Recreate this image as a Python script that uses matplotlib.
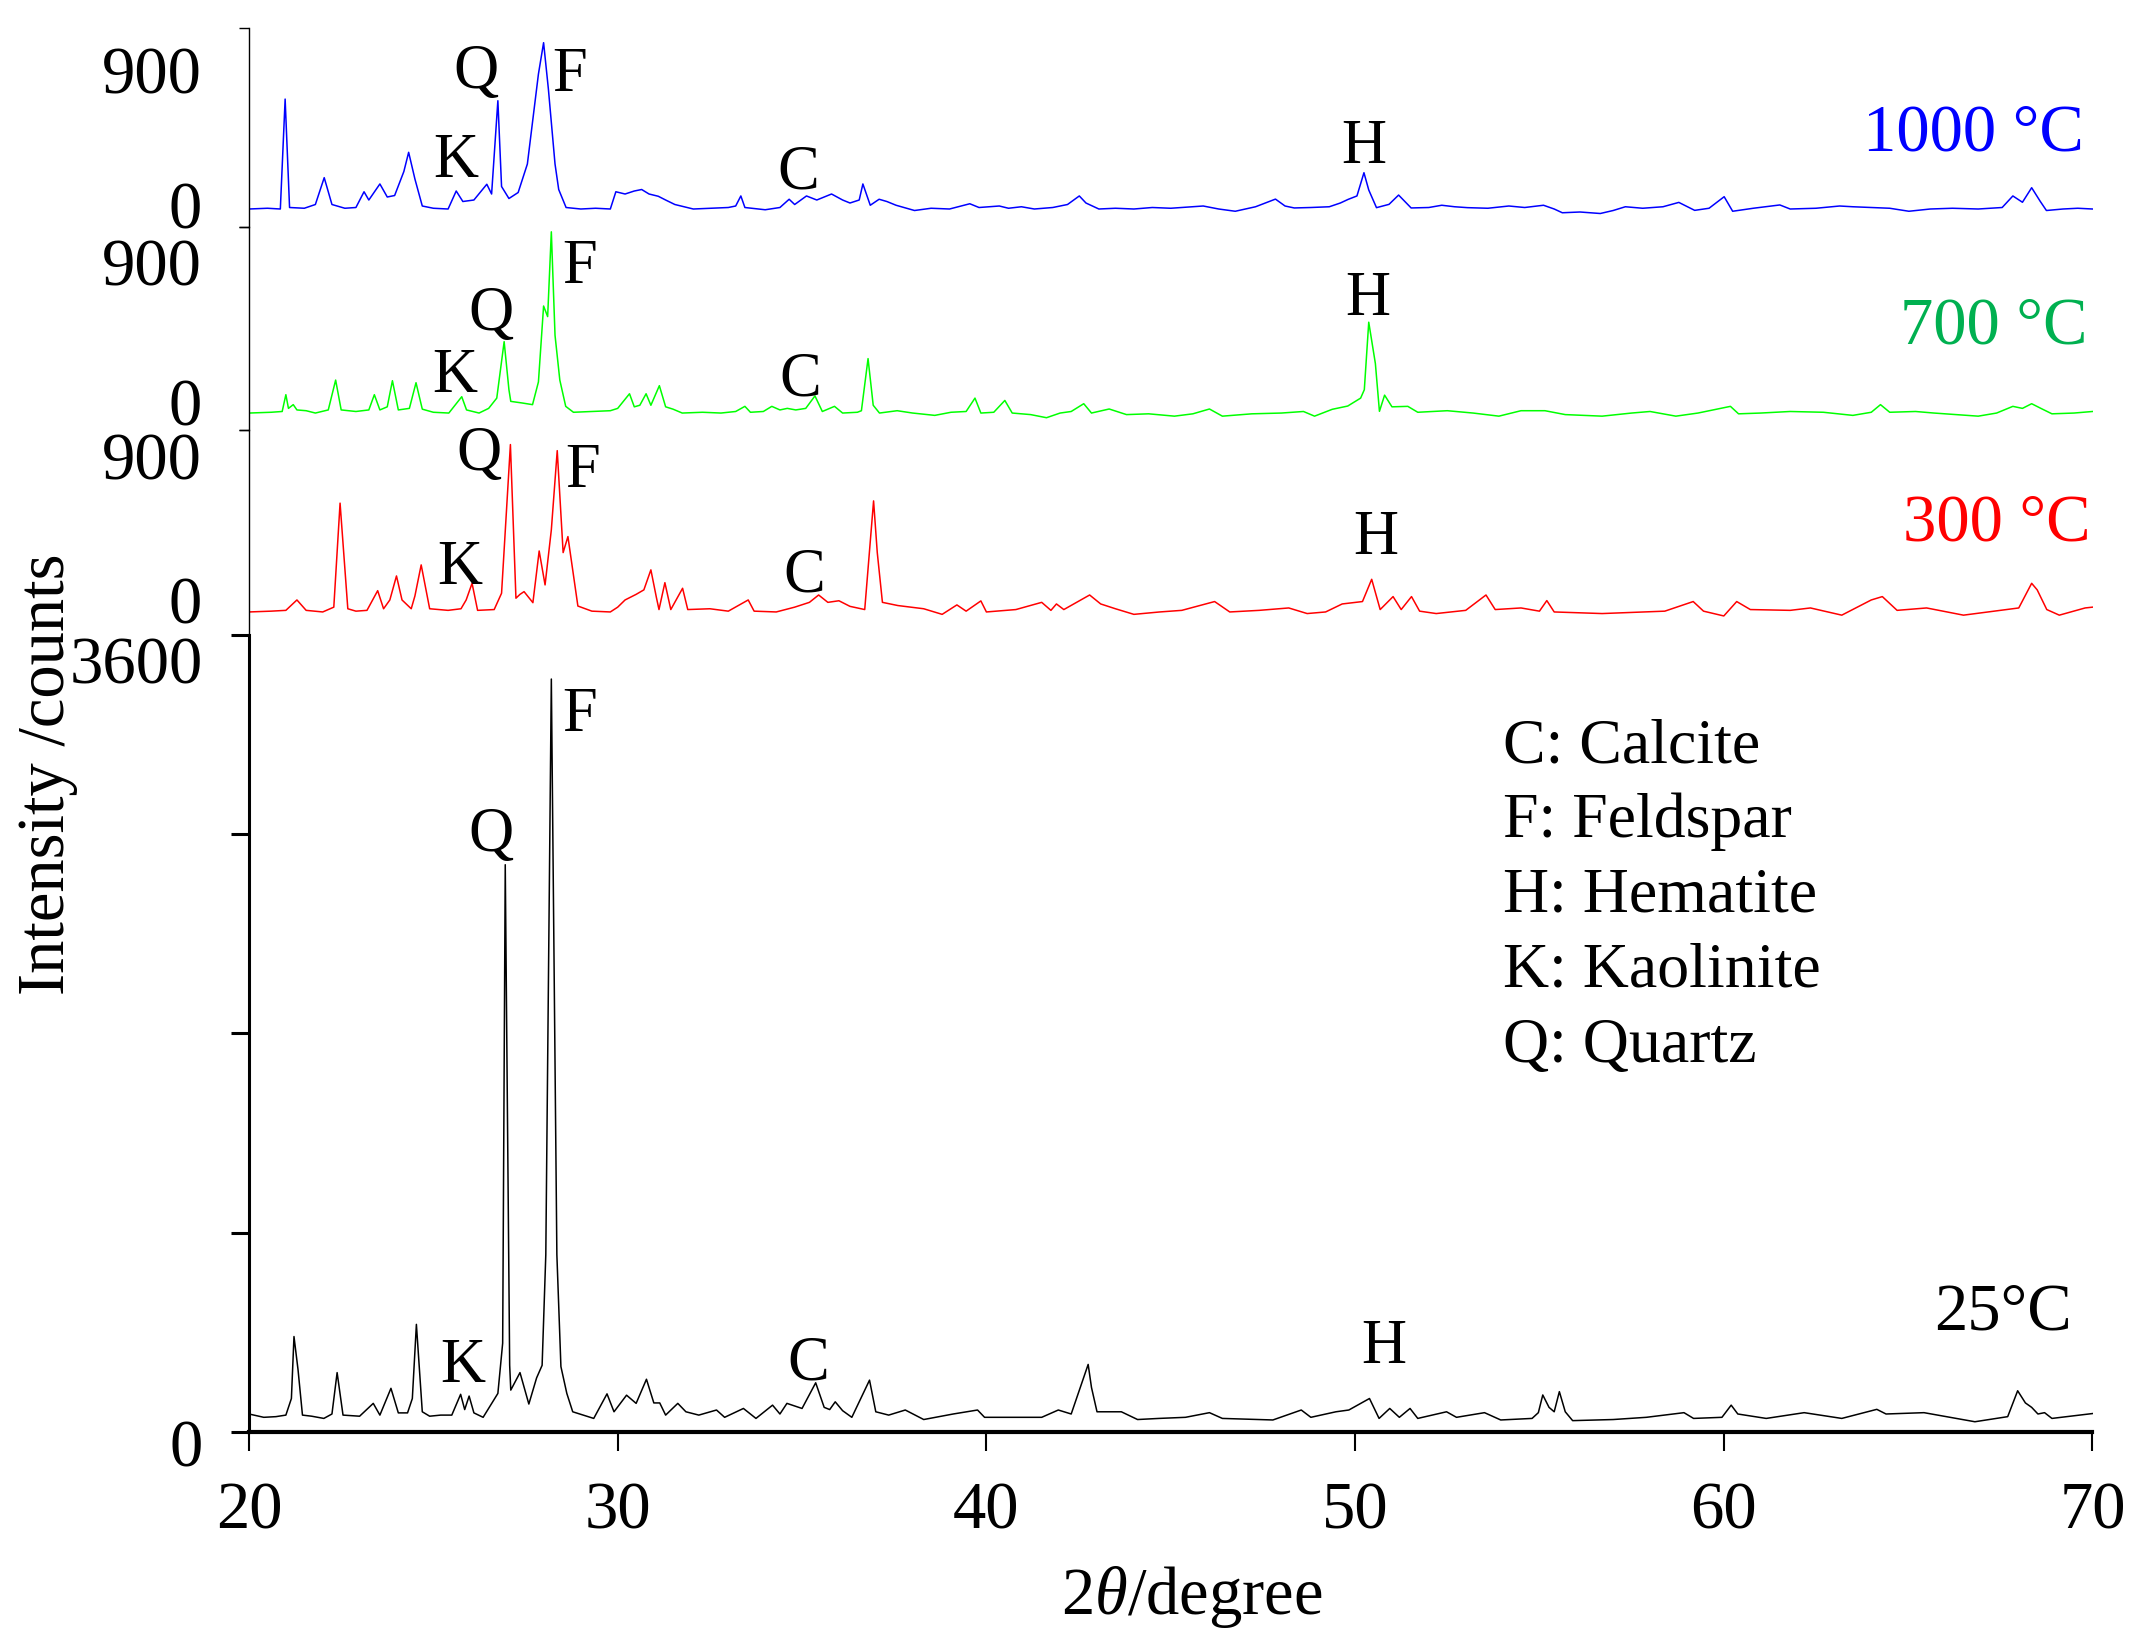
import numpy as np
import matplotlib.pyplot as plt
from matplotlib.transforms import ScaledTranslation

plt.rcParams['font.family'] = ['Liberation Serif', 'DejaVu Serif']
plt.rcParams['mathtext.fontset'] = 'custom'
plt.rcParams['mathtext.rm'] = 'Liberation Serif'
plt.rcParams['mathtext.it'] = 'Liberation Serif:italic'

# (2theta, counts)
pts_1000 = np.array([
    (20.0, 0), (20.5, 5), (20.85, 0), (20.98, 733), (21.1, 10), (21.5, 5), (21.8, 30), (22.04, 209),
    (22.25, 30), (22.6, 5), (22.9, 10), (23.12, 115), (23.25, 60), (23.55, 167), (23.75, 80), (23.95, 90),
    (24.2, 250), (24.33, 378), (24.5, 200), (24.7, 20), (25.0, 5), (25.4, 0), (25.62, 120), (25.8, 50),
    (26.1, 60), (26.45, 165), (26.58, 100), (26.75, 722), (26.85, 150), (27.05, 70), (27.3, 110),
    (27.55, 300), (27.85, 900), (27.99, 1109), (28.12, 800), (28.3, 300), (28.4, 130), (28.6, 10),
    (29.0, 0), (29.4, 5), (29.8, 0), (29.95, 115), (30.2, 100), (30.45, 120), (30.65, 130), (30.85, 100),
    (31.1, 85), (31.3, 60), (31.55, 30), (32.05, 0), (32.5, 5), (33.0, 10), (33.2, 20), (33.34, 87),
    (33.45, 10), (34.0, -5), (34.4, 10), (34.65, 65), (34.8, 30), (35.12, 87), (35.4, 60), (35.8, 100),
    (36.1, 60), (36.3, 40), (36.55, 60), (36.65, 167), (36.85, 25), (37.09, 65), (37.3, 50), (37.55, 25),
    (38.05, -10), (38.5, 5), (39.0, 0), (39.55, 35), (39.8, 10), (40.35, 20), (40.6, 5), (40.95, 15),
    (41.3, 0), (41.8, 10), (42.2, 30), (42.52, 87), (42.7, 40), (43.05, 0), (43.5, 5), (44.0, 0),
    (44.5, 10), (45.0, 5), (45.88, 20), (46.3, 0), (46.75, -15), (47.3, 15), (47.84, 66), (48.1, 20),
    (48.35, 7), (48.8, 10), (49.3, 15), (49.6, 40), (49.81, 64), (50.05, 87), (50.24, 242), (50.37, 127),
    (50.58, 9), (50.92, 31), (51.18, 93), (51.52, 7), (52.0, 10), (52.35, 25), (52.7, 15), (53.05, 9),
    (53.6, 5), (54.17, 20), (54.6, 10), (55.11, 25), (55.4, 0), (55.62, -25), (56.1, -20), (56.65, -30),
    (57.0, -10), (57.33, 15), (57.8, 5), (58.35, 15), (58.78, 44), (59.21, -9), (59.6, 5), (60.01, 82),
    (60.24, -15), (60.8, 5), (61.52, 27), (61.8, 0), (62.5, 5), (63.14, 20), (63.5, 15), (64.0, 10),
    (64.5, 5), (65.02, -15), (65.6, 0), (66.2, 5), (66.9, 0), (67.55, 10), (67.84, 87), (68.1, 45),
    (68.35, 142), (68.58, 52), (68.75, -10), (69.2, 0), (69.6, 5), (70.0, 0),
])

pts_700 = np.array([
    (20.0, 0), (20.6, 5), (20.9, 10), (21.0, 118), (21.07, 30), (21.2, 54), (21.3, 20), (21.55, 15),
    (21.8, 0), (22.15, 20), (22.35, 212), (22.5, 20), (22.9, 10), (23.25, 20), (23.4, 118), (23.55, 20),
    (23.75, 40), (23.89, 208), (24.05, 20), (24.35, 30), (24.53, 195), (24.7, 25), (25.0, 5), (25.42, 0),
    (25.77, 105), (25.9, 20), (26.24, 0), (26.5, 30), (26.72, 96), (26.92, 459), (27.05, 150), (27.1, 75),
    (27.4, 65), (27.69, 54), (27.85, 200), (27.99, 688), (28.1, 620), (28.2, 1165), (28.3, 500),
    (28.43, 212), (28.59, 43), (28.8, 5), (29.3, 10), (29.8, 15), (30.0, 30), (30.32, 124), (30.45, 40),
    (30.6, 50), (30.77, 124), (30.9, 50), (31.13, 176), (31.3, 40), (31.5, 25), (31.75, 0), (32.3, 5),
    (32.8, 0), (33.2, 10), (33.45, 43), (33.6, 5), (33.95, 10), (34.18, 43), (34.4, 20), (34.6, 30),
    (34.83, 20), (35.1, 30), (35.35, 110), (35.55, 10), (35.88, 43), (36.1, 0), (36.5, 5), (36.61, 15),
    (36.79, 350), (36.93, 50), (37.1, 0), (37.58, 15), (38.0, 0), (38.6, -15), (39.04, 5), (39.45, 10),
    (39.69, 96), (39.85, 0), (40.2, 5), (40.5, 81), (40.7, 0), (41.2, -10), (41.63, -30), (42.0, 0),
    (42.3, 10), (42.64, 60), (42.85, 0), (43.33, 26), (43.8, -10), (44.4, -5), (45.1, -20), (45.6, -5),
    (46.05, 26), (46.4, -20), (47.2, -5), (48.0, 0), (48.6, 10), (48.9, -20), (49.38, 24), (49.8, 45),
    (50.15, 96), (50.25, 150), (50.37, 584), (50.55, 318), (50.66, 11), (50.8, 115), (51.0, 40),
    (51.43, 43), (51.7, 5), (52.5, 15), (53.2, 0), (53.9, -20), (54.5, 15), (55.15, 15), (55.7, -10),
    (56.7, -20), (57.5, 0), (58.0, 10), (58.7, -20), (59.3, 0), (60.18, 43), (60.4, -5), (61.0, 0),
    (61.8, 10), (62.7, 5), (63.5, -15), (64.0, 5), (64.25, 54), (64.5, 5), (65.2, 10), (65.7, 0),
    (66.9, -20), (67.4, 0), (67.84, 43), (68.1, 30), (68.35, 60), (68.6, 30), (68.9, -5), (69.5, 0),
    (70.0, 10),
])

pts_300 = np.array([
    (20.0, 0), (20.6, 5), (21.0, 10), (21.3, 75), (21.55, 10), (22.0, 0), (22.3, 30), (22.47, 680),
    (22.68, 20), (22.9, 5), (23.2, 10), (23.49, 133), (23.65, 20), (23.82, 75), (24.0, 225), (24.15, 75),
    (24.4, 20), (24.5, 100), (24.67, 294), (24.9, 20), (25.4, 10), (25.75, 20), (25.89, 75), (26.05, 179),
    (26.2, 10), (26.65, 15), (26.85, 117), (27.09, 1046), (27.24, 86), (27.35, 110), (27.46, 127),
    (27.7, 58), (27.87, 381), (28.03, 169), (28.2, 513), (28.36, 1008), (28.52, 371), (28.65, 471),
    (28.92, 37), (29.3, 5), (29.8, 0), (30.0, 30), (30.2, 75), (30.5, 110), (30.71, 138), (30.9, 263),
    (31.05, 90), (31.12, 15), (31.28, 183), (31.44, 15), (31.76, 148), (31.9, 15), (32.5, 20), (33.0, 5),
    (33.54, 75), (33.7, 5), (34.3, 0), (34.8, 30), (35.2, 60), (35.45, 106), (35.7, 60), (36.0, 70),
    (36.3, 35), (36.7, 15), (36.94, 694), (37.04, 371), (37.18, 60), (37.6, 40), (38.3, 20), (38.8, -15),
    (39.2, 44), (39.45, 5), (39.85, 69), (40.0, 0), (40.8, 15), (41.5, 60), (41.75, 10), (41.9, 50),
    (42.1, 15), (42.8, 106), (43.1, 50), (43.5, 20), (44.0, -15), (44.7, 0), (45.3, 10), (46.19, 65),
    (46.6, 0), (47.4, 10), (48.2, 25), (48.7, -10), (49.2, 0), (49.65, 50), (50.2, 65), (50.45, 204),
    (50.68, 15), (51.03, 96), (51.25, 15), (51.53, 96), (51.75, 5), (52.2, -10), (53.0, 10), (53.55, 106),
    (53.8, 15), (54.5, 25), (55.0, 5), (55.2, 71), (55.4, 0), (56.7, -10), (58.4, 5), (59.17, 65),
    (59.45, 5), (60.0, -25), (60.35, 65), (60.72, 15), (61.8, 10), (62.35, 25), (63.2, -20), (64.0, 75),
    (64.3, 96), (64.7, 10), (65.5, 25), (66.5, -20), (68.0, 25), (68.35, 179), (68.5, 138), (68.76, 15),
    (69.1, -20), (69.8, 25), (70.0, 30),
])

pts_25 = np.array([
    (20.0, 80), (20.4, 65), (20.73, 68), (21.0, 75), (21.15, 150), (21.22, 430), (21.33, 280), (21.45, 75),
    (21.7, 70), (22.03, 60), (22.25, 80), (22.39, 267), (22.55, 75), (23.0, 70), (23.37, 128), (23.55, 75),
    (23.85, 196), (24.05, 85), (24.3, 85), (24.43, 150), (24.54, 485), (24.7, 90), (24.9, 70), (25.2, 75),
    (25.5, 75), (25.74, 169), (25.85, 100), (25.97, 161), (26.1, 85), (26.35, 65), (26.75, 173),
    (26.88, 400), (26.95, 2562), (27.07, 300), (27.1, 188), (27.35, 267), (27.59, 125), (27.8, 243),
    (27.95, 300), (28.05, 800), (28.2, 3401), (28.35, 800), (28.46, 294), (28.62, 173), (28.78, 90),
    (29.35, 60), (29.71, 171), (29.9, 90), (30.24, 165), (30.5, 128), (30.78, 237), (30.98, 130),
    (31.14, 130), (31.3, 75), (31.63, 128), (31.85, 90), (32.2, 75), (32.68, 98), (32.9, 65), (33.41, 105),
    (33.75, 60), (34.2, 120), (34.4, 80), (34.59, 128), (35.0, 105), (35.37, 221), (35.6, 110),
    (35.75, 100), (35.9, 135), (36.1, 95), (36.35, 65), (36.83, 233), (37.0, 90), (37.35, 75), (37.8, 98),
    (38.3, 55), (39.1, 80), (39.76, 98), (39.95, 65), (40.9, 65), (41.5, 65), (41.95, 98), (42.3, 80),
    (42.76, 304), (42.85, 200), (43.0, 90), (43.66, 90), (44.1, 55), (44.68, 60), (45.4, 65), (46.05, 86),
    (46.4, 60), (47.77, 53), (48.54, 98), (48.8, 65), (49.48, 90), (49.83, 98), (50.39, 150), (50.65, 60),
    (50.94, 105), (51.2, 65), (51.49, 105), (51.7, 60), (52.48, 90), (52.75, 65), (53.51, 86), (53.95, 53),
    (54.8, 60), (54.97, 86), (55.09, 166), (55.26, 110), (55.4, 90), (55.54, 181), (55.7, 90), (55.9, 50),
    (57.0, 55), (57.9, 65), (58.92, 86), (59.18, 60), (59.95, 65), (60.2, 120), (60.38, 80), (61.15, 60),
    (62.18, 86), (63.2, 60), (64.15, 101), (64.4, 80), (65.43, 86), (66.81, 45), (67.7, 68), (67.97, 185),
    (68.18, 130), (68.35, 110), (68.52, 80), (68.7, 86), (68.9, 60), (70.0, 82),
])

temps = ['1000 °C', '700 °C', '300 °C', '25°C']
trace_colors = ['#0000ff', '#00ff00', '#ff0000', 'black']
temp_colors = ['#0000ff', '#00b050', '#ff0000', 'black']

# phase letters per panel: (letter, 2theta, counts)
marks_1000 = [('K', 25.6, 215), ('Q', 26.17, 805), ('F', 28.69, 787), ('C', 34.89, 138), ('H', 50.24, 309)]
marks_700 = [('K', 25.57, 137), ('Q', 26.57, 533), ('F', 28.96, 833), ('C', 34.94, 116), ('H', 50.34, 630)]
marks_300 = [('K', 25.71, 175), ('Q', 26.25, 887), ('F', 29.04, 783), ('C', 35.05, 127), ('H', 50.56, 362)]
marks_25 = [('K', 25.8, 226), ('Q', 26.57, 2624), ('F', 28.97, 3168), ('C', 35.17, 234), ('H', 50.77, 309)]

legend_rows = ['C: Calcite', 'F: Feldspar', 'H: Hematite', 'K: Kaolinite', 'Q: Quartz']

W, H = 2149, 1651
fig = plt.figure(figsize=(W / 100, H / 100), dpi=100)
X0, X1 = 249, 2092.5

def px_offset(dy):
    return ScaledTranslation(0, dy / 100, fig.dpi_scale_trans)

def add_panel(top, bottom):
    return fig.add_axes([X0 / W, 1 - bottom / H, (X1 - X0) / W, (bottom - top) / H])

# upper stacked panels: pixel top/bottom, ylim, tick label shift (px)
upper = [
    (pts_1000, marks_1000, (28, 227), (-120, 1207), 4, (69.77, 393)),
    (pts_700, marks_700, (227, 430), (-109, 1196), 11, (69.86, 448)),
    (pts_300, marks_300, (430, 635), (-144, 1137), 12, (69.95, 446)),
]

for i, (pts, marks, (top, bot), ylim, shift, tpos) in enumerate(upper):
    ax = add_panel(top, bot)
    ax.plot(pts[:, 0], pts[:, 1], color=trace_colors[i], lw=1.1)
    ax.set_xlim(20, 70); ax.set_ylim(*ylim)
    for s in ['top', 'right', 'bottom']:
        ax.spines[s].set_visible(False)
    ax.spines['left'].set_linewidth(1.0)
    ax.tick_params(axis='x', bottom=False, labelbottom=False)
    ax.set_yticks([0, 900], ['0', '900'])
    ax.set_yticks(list(ylim), minor=True)
    ax.tick_params(axis='y', which='major', length=0, pad=34, labelsize=48)
    ax.tick_params(axis='y', which='minor', length=7, width=1.0, direction='out')
    for lab in ax.get_yticklabels():
        lab.set_transform(lab.get_transform() + px_offset(shift))
    for letter, x, y in marks:
        ax.text(x, y, letter, ha='center', va='baseline', fontsize=45)
    ax.text(tpos[0], tpos[1], temps[i], ha='right', va='baseline', fontsize=48, color=temp_colors[i])
    ax.patch.set_visible(False)

# bottom panel (25 °C)
ax = add_panel(635, 1431.7)
ax.plot(pts_25[:, 0], pts_25[:, 1], color='black', lw=1.1)
ax.set_xlim(20, 70); ax.set_ylim(0, 3600)
for s in ['top', 'right']:
    ax.spines[s].set_visible(False)
ax.spines['left'].set_linewidth(2.2)
ax.spines['bottom'].set_linewidth(3.0)
ax.set_xticks(range(20, 71, 10))
ax.set_yticks([0, 900, 1800, 2700, 3600], ['0', '', '', '', '3600'])
ax.tick_params(axis='x', length=14, width=1.5, pad=22, labelsize=48)
ax.tick_params(axis='y', length=13, width=2.2, pad=20, labelsize=48)
ylabs = ax.get_yticklabels()
ylabs[0].set_transform(ylabs[0].get_transform() + px_offset(-11))
ylabs[-1].set_transform(ylabs[-1].get_transform() + px_offset(-25))
for letter, x, y in marks_25:
    ax.text(x, y, letter, ha='center', va='baseline', fontsize=45)
ax.text(69.44, 460, temps[3], ha='right', va='baseline', fontsize=48, color=temp_colors[3])
for row, y in zip(legend_rows, [3026, 2689, 2350, 2011, 1672]):
    ax.text(54.0, y, row, ha='left', va='baseline', fontsize=46)

fig.text(48 / W, 1 - 774 / H, 'Intensity /counts', rotation=90, ha='center', va='center', fontsize=48)
fig.text(1192 / W, 1 - 1597 / H, r'2$\theta$/degree', ha='center', va='center', fontsize=48)

fig.savefig('out.png', dpi=100)
